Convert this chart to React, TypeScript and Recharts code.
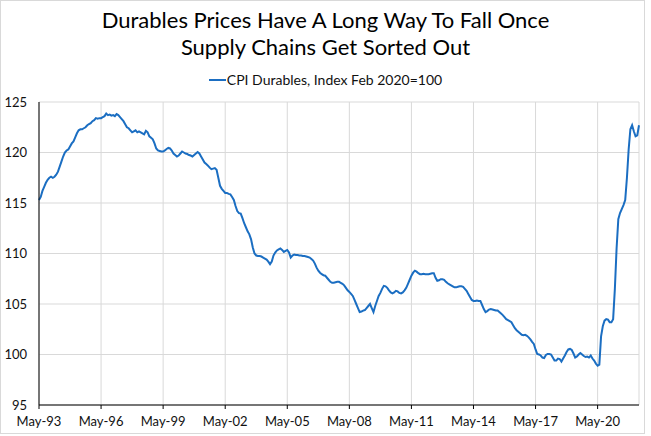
import { CartesianGrid, Line, LineChart, XAxis, YAxis } from "recharts"

// CPI durables, monthly, May 1993 onward (index Feb 2020 = 100)
const durables = [
  // 1993 May-Dec
  115.3, 115.6, 116.2, 116.6, 117.0, 117.3, 117.5, 117.6,
  // 1994
  117.5, 117.6, 117.8, 118.1, 118.6, 119.1, 119.6, 120.0, 120.2, 120.3, 120.6, 120.9,
  // 1995
  121.1, 121.5, 121.9, 122.2, 122.3, 122.3, 122.4, 122.5, 122.7, 122.8, 122.9, 123.1,
  // 1996
  123.2, 123.4, 123.35, 123.4, 123.4, 123.5, 123.6, 123.85, 123.7, 123.75, 123.65, 123.7,
  // 1997
  123.6, 123.8, 123.7, 123.5, 123.3, 123.1, 122.8, 122.5, 122.4, 122.2, 122.0, 122.1,
  // 1998
  122.2, 122.0, 122.1, 122.0, 121.9, 121.8, 122.15, 122.0, 121.6, 121.45, 121.3, 120.9,
  // 1999
  120.4, 120.2, 120.15, 120.1, 120.1, 120.2, 120.35, 120.45, 120.4, 120.2, 119.9, 119.75,
  // 2000
  119.6, 119.7, 119.9, 120.1, 120.0, 119.9, 119.85, 119.75, 119.7, 119.6, 119.75, 119.9,
  // 2001
  120.05, 119.9, 119.6, 119.3, 119.0, 118.85, 118.7, 118.5, 118.35, 118.4, 118.45, 118.3,
  // 2002
  117.5, 116.7, 116.4, 116.2, 116.0, 116.0, 115.9, 115.85, 115.6, 115.3, 114.7, 114.2,
  // 2003
  114.0, 113.95, 113.5, 113.0, 112.6, 112.2, 111.9, 111.4, 110.6, 110.0, 109.8, 109.75,
  // 2004
  109.75, 109.7, 109.6, 109.5, 109.4, 109.2, 108.95, 109.2, 109.8, 110.1, 110.3, 110.4,
  // 2005
  110.5, 110.35, 110.15, 110.25, 110.35, 110.1, 109.6, 109.8, 109.9, 109.85, 109.85, 109.8,
  // 2006
  109.8, 109.75, 109.75, 109.7, 109.65, 109.6, 109.45, 109.3, 109.0, 108.6, 108.3, 108.1,
  // 2007
  107.95, 107.85, 107.8, 107.6, 107.4, 107.2, 107.1, 107.1, 107.15, 107.2, 107.2, 107.1,
  // 2008
  107.0, 106.85, 106.6, 106.35, 106.2, 106.0, 105.8, 105.4, 105.0, 104.6, 104.2, 104.25,
  // 2009
  104.35, 104.4, 104.6, 104.8, 105.0, 104.6, 104.2, 104.8, 105.3, 105.8, 106.1, 106.5,
  // 2010
  106.8, 106.75, 106.6, 106.35, 106.15, 106.05, 106.15, 106.3, 106.25, 106.1, 106.05, 106.15,
  // 2011
  106.35, 106.6, 107.0, 107.4, 107.8, 108.1, 108.3, 108.2, 108.05, 107.95, 107.95, 108.0,
  // 2012
  107.95, 107.95, 107.95, 108.0, 108.05, 108.05, 107.6, 107.3, 107.35, 107.45, 107.45, 107.4,
  // 2013
  107.2, 107.05, 106.95, 106.85, 106.75, 106.65, 106.65, 106.7, 106.75, 106.75, 106.7, 106.5,
  // 2014
  106.3, 106.0, 105.7, 105.4, 105.3, 105.3, 105.35, 105.3, 105.3, 104.9, 104.5, 104.2,
  // 2015
  104.3, 104.45, 104.5, 104.45, 104.4, 104.35, 104.35, 104.2, 104.05, 103.9, 103.7, 103.5,
  // 2016
  103.4, 103.3, 103.2, 102.9, 102.6, 102.4, 102.25, 102.1, 101.95, 101.9, 101.95, 101.85,
  // 2017
  101.7, 101.5, 101.25, 101.05, 100.5, 100.05, 100.0, 99.9, 99.7, 99.65, 99.95, 100.05,
  // 2018
  100.05, 100.0, 99.7, 99.4, 99.4, 99.6, 99.55, 99.3, 99.6, 99.9, 100.25, 100.5,
  // 2019
  100.55, 100.45, 100.1, 99.7, 99.8, 100.0, 100.15, 100.0, 99.85, 99.75, 99.8, 99.7,
  // 2020
  99.9, 99.6, 99.4, 99.1, 98.9, 99.0, 101.8, 102.8, 103.35, 103.5, 103.45, 103.2,
  // 2021
  103.2, 103.5, 106.5, 110.5, 113.4, 114.0, 114.4, 114.8, 115.3, 117.5, 120.3, 122.3,
  // 2022 Jan-May
  122.7, 122.1, 121.6, 121.7, 122.7,
]

const monthNames = ["Jan", "Feb", "Mar", "Apr", "May", "Jun", "Jul", "Aug", "Sep", "Oct", "Nov", "Dec"]
const startYear = 1993
const startMonth = 4 // May

const xTicks = ["May-93", "May-96", "May-99", "May-02", "May-05", "May-08", "May-11", "May-14", "May-17", "May-20"]
const yTicks = [95, 100, 105, 110, 115, 120, 125]

const data = durables.map((value, i) => {
  const m = startMonth + i
  const year = startYear + Math.floor(m / 12)
  const label = `${monthNames[m % 12]}-${String(year % 100).padStart(2, "0")}`
  return { label, value }
})

const font = "Lato, 'Noto Sans', sans-serif"

export default function App() {
  return (
    <div style={{ position: "absolute", left: 0, top: 0, width: 651, height: 436, background: "#fff", fontFamily: font }}>
      <div
        style={{
          position: "absolute",
          left: 0,
          top: 0,
          width: 645,
          height: 434,
          border: "1px solid #d9d9d9",
          boxSizing: "border-box",
        }}
      />
      <div
        style={{
          position: "absolute",
          left: 0,
          top: 6,
          width: 651,
          textAlign: "center",
          fontSize: 22,
          lineHeight: "27px",
          color: "#000",
        }}
      >
        Durables Prices Have A Long Way To Fall Once
        <br />
        Supply Chains Get Sorted Out
      </div>
      <div
        style={{
          position: "absolute",
          left: 0,
          top: 71,
          width: 651,
          display: "flex",
          justifyContent: "center",
          alignItems: "center",
          fontSize: 14,
          lineHeight: "17px",
          color: "#111",
        }}
      >
        <span style={{ display: "inline-block", width: 17, height: 2, background: "#1b6ec2", marginRight: 1 }} />
        <span>CPI Durables, Index Feb 2020=100</span>
      </div>
      <LineChart
        width={651}
        height={436}
        data={data}
        margin={{ top: 102, right: 12, bottom: 6, left: 0 }}
        style={{ position: "absolute", left: 0, top: 0 }}
      >
        <CartesianGrid stroke="#d9d9d9" strokeWidth={1} />
        <XAxis
          dataKey="label"
          ticks={xTicks}
          interval={0}
          height={25}
          stroke="#000"
          tickSize={4}
          tickMargin={8}
          tick={{ fill: "#111", fontSize: 13, fontFamily: font }}
        />
        <YAxis
          domain={[95, 125]}
          ticks={yTicks}
          width={39}
          stroke="#000"
          tickLine={false}
          tickSize={6}
          tickMargin={6}
          tick={{ fill: "#111", fontSize: 13, fontFamily: font }}
        />
        <Line
          type="linear"
          dataKey="value"
          stroke="#1b6ec2"
          strokeWidth={2}
          dot={false}
          isAnimationActive={false}
        />
      </LineChart>
    </div>
  )
}
